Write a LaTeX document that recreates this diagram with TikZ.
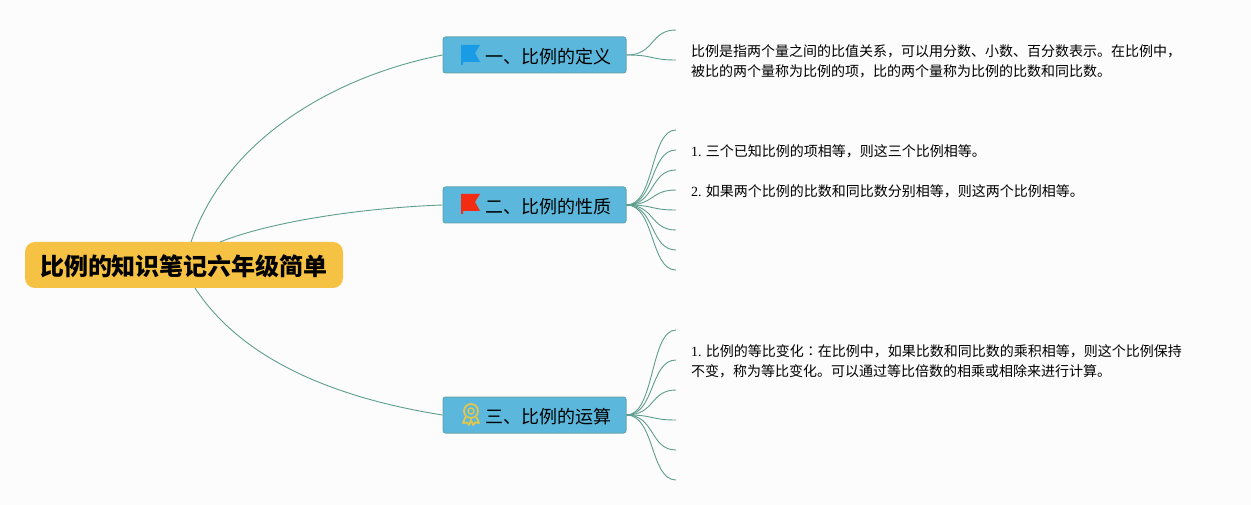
\documentclass[tikz,border=0pt]{standalone}
\usepackage{fontspec}
\setmainfont{Noto Sans CJK SC}
\newfontfamily\numfont{Liberation Serif}
\newfontfamily\tcfont{Noto Sans CJK TC}
\usetikzlibrary{positioning}
\definecolor{pagebg}{HTML}{FCFCFC}
\definecolor{rootfill}{HTML}{F6C244}
\definecolor{boxfill}{HTML}{5BB7DB}
\definecolor{boxline}{HTML}{62A6B0}
\definecolor{linkcol}{HTML}{5F9E8F}
\definecolor{flagblue}{HTML}{1A9BE6}
\definecolor{flagred}{HTML}{F22B12}
\definecolor{medalcol}{HTML}{E3C64C}
\tikzset{
  rootbox/.style={fill=rootfill,rounded corners=10pt,minimum width=318pt,minimum height=46pt,
    inner sep=0pt,font=\fontsize{24}{28}\selectfont\bfseries,text=black},
  branchbox/.style={fill=boxfill,draw=boxline,line width=1pt,rounded corners=2.5pt,minimum width=183pt,
    minimum height=36pt,inner sep=0pt,font=\fontsize{18}{22}\selectfont,text=black},
  notetext/.style={anchor=north west,align=left,inner sep=0pt,
    font=\fontsize{14}{20}\selectfont,text=black},
  linkline/.style={draw=linkcol,line width=0.9pt},
}
\newcommand{\nr}[1]{{\numfont #1}}
\newcommand{\low}[1]{\raisebox{-1.8pt}[\height][\depth]{#1}}
\begin{document}
\begin{tikzpicture}[x=1pt,y=-1pt]
  \useasboundingbox[fill=pagebg] (0,0) rectangle (1251,505);
  %----- root and branches -----
  \node[rootbox] (root) at (184,265) {\low{比例的知识笔记六年级简单}};
  \node[branchbox] (def)  at (534.5,55)  {\hspace*{28pt}\low{一、比例的定义}};
  \node[branchbox] (prop) at (534.5,205) {\hspace*{28pt}\low{二、比例的性质}};
  \node[branchbox] (calc) at (534.5,415) {\hspace*{28pt}\low{三、比例的运算}};

  %----- root to branches -----
  \coordinate (rootA) at (191,242);
  \coordinate (rootB) at (220,242);
  \coordinate (rootC) at (195,288);
  \draw[linkline] (rootA) .. controls (228,135) and (340,75) .. (def.west);
  \draw[linkline] (rootB) .. controls (270,222) and (360,208) .. (prop.west);
  \draw[linkline] (rootC) .. controls (242,360) and (335,398) .. (calc.west);

  %----- branch to free ends -----
  \foreach \y in {30,60} {
    \coordinate (leaf) at (676,\y);
    \draw[linkline] (def.east) .. controls (655,55) and (650,\y) .. (leaf);
  }
  \foreach \y in {130,150,...,270} {
    \coordinate (leaf) at (676,\y);
    \draw[linkline] (prop.east) .. controls (655,205) and (650,\y) .. (leaf);
  }
  \foreach \y in {330,360,...,480} {
    \coordinate (leaf) at (676,\y);
    \draw[linkline] (calc.east) .. controls (655,415) and (650,\y) .. (leaf);
  }

  %----- notes -----
  \node[notetext] (noteA) at (691,44.5) {比例是指两个量之间的比值关系，可以用分数、小数、百分数表示。在比例中，\\被比的两个量称为比例的项，比的两个量称为比例的比数和同比数。};
  \node[notetext] (noteB) at (691,144.5) {\nr{1.} 三个已知比例的项相等，则这三个比例相等。};
  \node[notetext] (noteC) at (691,184.5) {\nr{2.} 如果两个比例的比数和同比数分别相等，则这两个比例相等。};
  \node[notetext] (noteD) at (691,344.5) {\nr{1.} 比例的等比变化{\tcfont ：}在比例中，如果比数和同比数的乘积相等，则这个比例保持\\不变，称为等比变化。可以通过等比倍数的相乘或相除来进行计算。};

  %----- icons -----
  \def\flag#1#2{
    \fill[#1] (461,#2) -- (480,#2) -- (475,#2+8) -- (480,#2+17) -- (463,#2+17)
      -- (463,#2+20) -- (461,#2+20) -- cycle;
  }
  \flag{flagblue}{45}
  \flag{flagred}{194}
  \draw[medalcol,line width=1.8pt] (471,411) circle (7);
  \draw[medalcol,line width=1.4pt] (471,411) circle (3);
  \draw[medalcol,line width=1.8pt,line join=round] (465.5,417) -- (463,423) -- (467,422.5) -- (469,425) -- (471,420)
    -- (473,425) -- (475,422.5) -- (479,423) -- (476.5,417);
\end{tikzpicture}
\end{document}
